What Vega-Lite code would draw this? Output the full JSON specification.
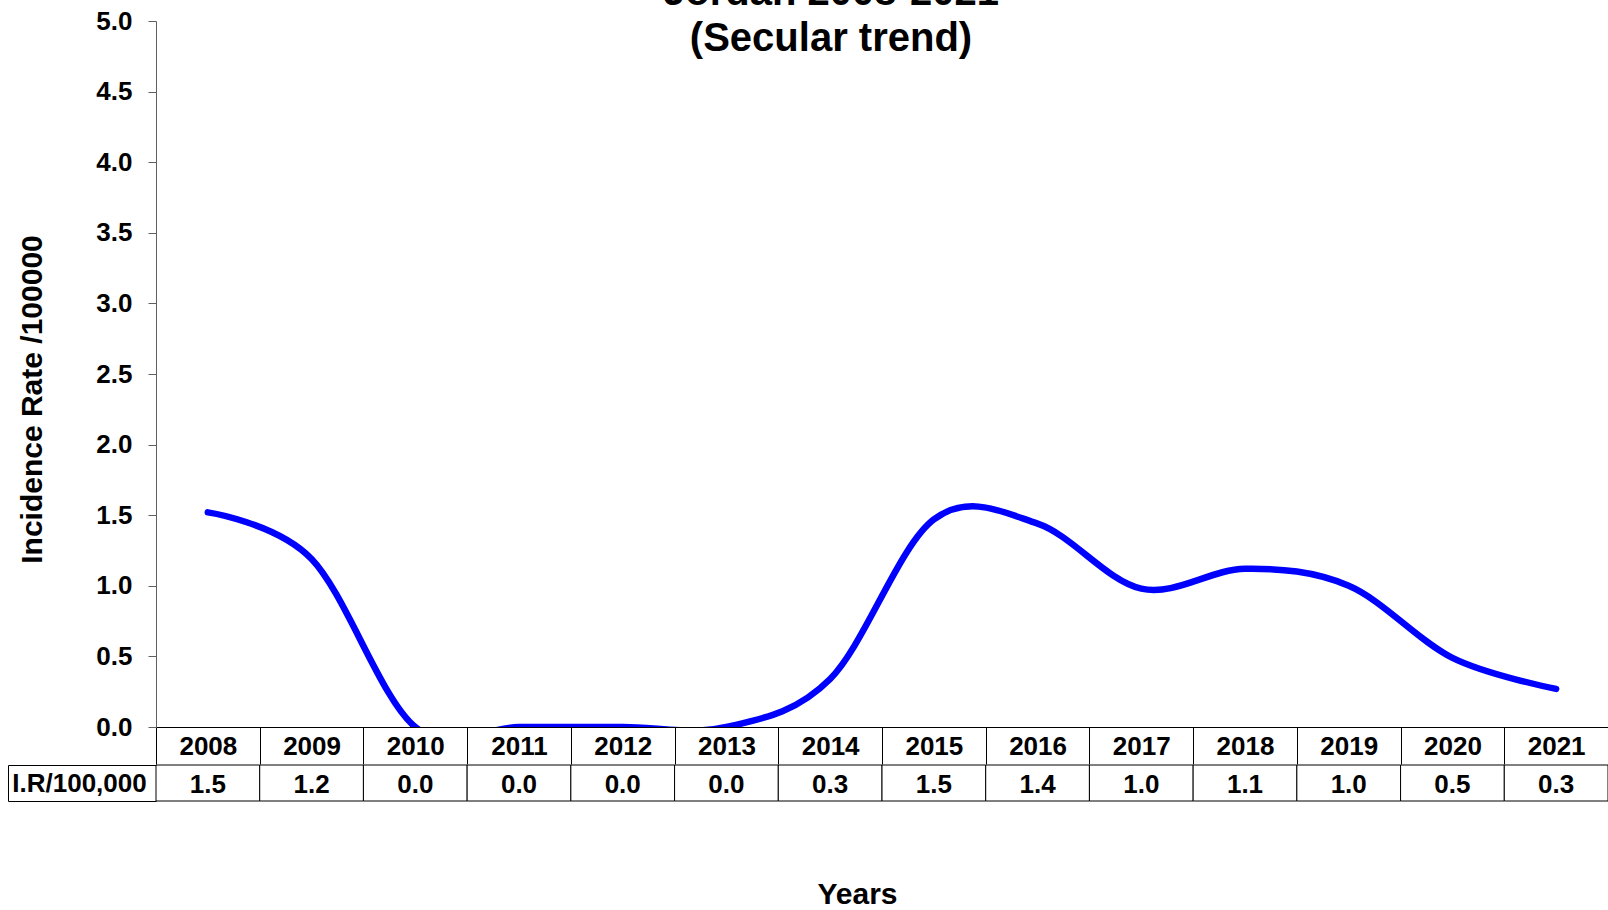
{
  "$schema": "https://vega.github.io/schema/vega-lite/v6.json",
  "padding": {"top": -27, "left": 7, "right": 0, "bottom": 0},
  "background": "white",
  "title": {
    "text": ["Jordan 2008-2021", "(Secular trend)"],
    "fontSize": 40, "font": "Liberation Sans", "fontWeight": "bold", "color": "black",
    "lineHeight": 46, "anchor": "middle", "dx": 23, "offset": -91, "baseline": "bottom"
  },
  "config": {"view": {"stroke": null}, "font": "Liberation Sans", "concat": {"spacing": -14}},
  "datasets": {
    "rates": [
      {"year": 2008, "rate": 1.52, "measure": "I.R/100,000"},
      {"year": 2009, "rate": 1.19, "measure": "I.R/100,000"},
      {"year": 2010, "rate": 0.0, "measure": "I.R/100,000"},
      {"year": 2011, "rate": 0.0, "measure": "I.R/100,000"},
      {"year": 2012, "rate": 0.0, "measure": "I.R/100,000"},
      {"year": 2013, "rate": 0.0, "measure": "I.R/100,000"},
      {"year": 2014, "rate": 0.34, "measure": "I.R/100,000"},
      {"year": 2015, "rate": 1.47, "measure": "I.R/100,000"},
      {"year": 2016, "rate": 1.44, "measure": "I.R/100,000"},
      {"year": 2017, "rate": 0.98, "measure": "I.R/100,000"},
      {"year": 2018, "rate": 1.12, "measure": "I.R/100,000"},
      {"year": 2019, "rate": 1.0, "measure": "I.R/100,000"},
      {"year": 2020, "rate": 0.49, "measure": "I.R/100,000"},
      {"year": 2021, "rate": 0.27, "measure": "I.R/100,000"}
    ]
  },
  "vconcat": [
    {
      "width": 1452,
      "height": 706,
      "data": {"name": "rates"},
      "mark": {"type": "line", "interpolate": "cardinal", "color": "#0000FF", "strokeWidth": 6.5, "strokeCap": "round", "clip": true},
      "encoding": {
        "x": {
          "field": "year", "type": "ordinal", "bandPosition": 0.5,
          "scale": {"type": "band", "paddingInner": 0, "paddingOuter": 0},
          "axis": {
            "title": null, "labelFont": "Liberation Sans", "labelFontSize": 26, "labelFontWeight": "bold",
            "labelColor": "black", "labelBaseline": "middle", "labelPadding": -18, "labelAngle": 0,
            "tickBand": "extent", "tickSize": 37, "tickColor": "black", "domainColor": "black", "grid": false
          }
        },
        "y": {
          "field": "rate", "type": "quantitative",
          "scale": {"domain": [0, 5], "nice": false},
          "axis": {
            "title": "Incidence Rate /100000", "titleFont": "Liberation Sans", "titleFontSize": 30,
            "titleFontWeight": "bold", "titleColor": "black", "titlePadding": 48, "titleY": 378,
            "values": [0, 0.5, 1, 1.5, 2, 2.5, 3, 3.5, 4, 4.5, 5], "format": ".1f",
            "labelFont": "Liberation Sans", "labelFontSize": 26, "labelFontWeight": "bold", "labelColor": "black",
            "labelPadding": 16, "tickSize": 8, "tickColor": "#606060", "domainColor": "#606060", "grid": false
          }
        }
      }
    },
    {
      "width": 1452,
      "height": 36,
      "data": {"name": "rates"},
      "encoding": {
        "x": {
          "field": "year", "type": "ordinal",
          "scale": {"type": "band", "paddingInner": 0, "paddingOuter": 0},
          "axis": {
            "labels": false, "ticks": false, "domain": false, "title": "Years",
            "titleFont": "Liberation Sans", "titleFontSize": 30, "titleFontWeight": "bold", "titleColor": "black",
            "titlePadding": 78, "titleX": 701
          }
        },
        "y": {
          "field": "measure", "type": "nominal",
          "scale": {"type": "band", "paddingInner": 0, "paddingOuter": 0},
          "axis": {
            "title": null, "offset": 148, "tickBand": "extent", "tickSize": -148, "tickColor": "black",
            "domainColor": "black", "labelAlign": "center", "labelBaseline": "middle", "labelPadding": 77,
            "labelFont": "Liberation Sans", "labelFontSize": 26, "labelFontWeight": "bold", "labelColor": "black"
          }
        }
      },
      "layer": [
        {"mark": {"type": "rect", "fill": "white", "stroke": "black", "strokeWidth": 1}},
        {
          "mark": {"type": "text", "font": "Liberation Sans", "fontSize": 26, "fontWeight": "bold", "color": "black", "baseline": "middle", "dy": 2},
          "encoding": {"text": {"field": "rate", "type": "quantitative", "format": ".1f"}}
        }
      ]
    }
  ]
}
